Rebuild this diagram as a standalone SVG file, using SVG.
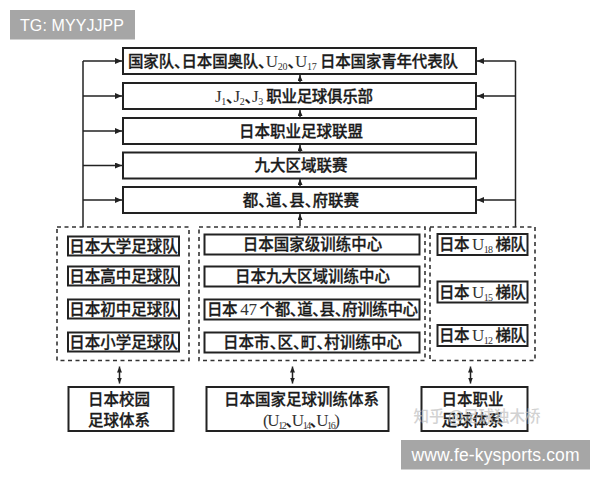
<svg xmlns="http://www.w3.org/2000/svg" width="600" height="480" viewBox="0 0 600 480">
<style>
.box { fill: #fff; stroke: #222; stroke-width: 2; }
.dash { fill: none; stroke: #333; stroke-width: 1.6; stroke-dasharray: 4 3.5; }
.ln { fill: none; stroke: #222; stroke-width: 1.5; }
.t { font-family: "Noto Sans CJK SC", "Liberation Sans", sans-serif; font-size: 15.5px; fill: #1a1a1a; stroke: #1a1a1a; stroke-width: 0.3; text-anchor: middle; font-weight: 500; font-feature-settings: "halt"; }
.r { font-family: "Liberation Serif", "Noto Sans CJK SC", serif; font-size: 17px; fill: #333; stroke: none; }
.sub { font-family: "Liberation Serif", "Noto Sans CJK SC", serif; font-size: 10px; fill: #333; stroke: none; }
.wm { font-family: "Liberation Sans", Arial, sans-serif; fill: #fff; }
</style>
<defs>
<marker id="ah" viewBox="0 0 7 6" refX="7" refY="3" markerWidth="7" markerHeight="6" markerUnits="userSpaceOnUse" orient="auto-start-reverse">
<path d="M0,0 L7,3 L0,6 z" fill="#222"/>
</marker>
<marker id="ahs" viewBox="0 0 6 5" refX="6" refY="2.5" markerWidth="6" markerHeight="5" markerUnits="userSpaceOnUse" orient="auto-start-reverse">
<path d="M0,0 L6,2.5 L0,5 z" fill="#222"/>
</marker>
</defs>
<rect width="600" height="480" fill="#fff"/>

<g id="connectors">
<path class="ln" d="M83,61 V227"/>
<path class="ln" d="M83,61 H122" marker-end="url(#ah)"/>
<path class="ln" d="M83,96 H122" marker-end="url(#ah)"/>
<path class="ln" d="M83,131 H122" marker-end="url(#ah)"/>
<path class="ln" d="M83,165.5 H122" marker-end="url(#ah)"/>
<path class="ln" d="M83,200 H122" marker-end="url(#ah)"/>
<path class="ln" d="M515.5,61 V227"/>
<path class="ln" d="M515.5,61 H477" marker-end="url(#ah)"/>
<path class="ln" d="M515.5,96 H477" marker-end="url(#ah)"/>
<path class="ln" d="M515.5,200 H477" marker-end="url(#ah)"/>
<path class="ln" d="M300,83 V75" marker-end="url(#ahs)"/>
<path class="ln" d="M300,118 V110" marker-end="url(#ahs)"/>
<path class="ln" d="M300,152.5 V145" marker-end="url(#ahs)"/>
<path class="ln" d="M300,187 V179" marker-end="url(#ahs)"/>
<path class="ln" d="M300,226 V214" marker-end="url(#ahs)"/>
<path class="ln" d="M119.5,366.5 V383.5" marker-start="url(#ahs)" marker-end="url(#ahs)"/>
<path class="ln" d="M292.5,366.5 V383.5" marker-start="url(#ahs)" marker-end="url(#ahs)"/>
<path class="ln" d="M470.5,366.5 V383.5" marker-start="url(#ahs)" marker-end="url(#ahs)"/>
</g>

<g id="national-team">
<rect class="box" x="123" y="48" width="353" height="26"/>
<text class="t" x="293" y="66.5" textLength="330">国家队、日本国奥队、<tspan class="r">U</tspan><tspan class="sub" dy="3">20</tspan><tspan dy="-3">、</tspan><tspan class="r">U</tspan><tspan class="sub" dy="3">17</tspan><tspan dy="-3"> 日本国家青年代表队</tspan></text>
</g>
<g id="j-clubs">
<rect class="box" x="123" y="83" width="353" height="26"/>
<text class="t" x="294" y="101.5" textLength="158"><tspan class="r">J</tspan><tspan class="sub" dy="3">1</tspan><tspan dy="-3">、</tspan><tspan class="r">J</tspan><tspan class="sub" dy="3">2</tspan><tspan dy="-3">、</tspan><tspan class="r">J</tspan><tspan class="sub" dy="3">3</tspan><tspan dy="-3"> 职业足球俱乐部</tspan></text>
</g>
<g id="j-league">
<rect class="box" x="123" y="118" width="353" height="26"/>
<text class="t" x="301" y="136.5">日本职业足球联盟</text>
</g>
<g id="regional-league">
<rect class="box" x="123" y="152.5" width="353" height="26"/>
<text class="t" x="301" y="171">九大区域联赛</text>
</g>
<g id="prefecture-league">
<rect class="box" x="123" y="187" width="353" height="26"/>
<text class="t" x="301" y="205.5">都、道、县、府联赛</text>
</g>

<g id="school-group">
<rect class="dash" x="57" y="227" width="132" height="133.5"/>
<rect class="box" x="68" y="236.5" width="111" height="19"/>
<text class="t" x="123.5" y="251.5">日本大学足球队</text>
<rect class="box" x="68" y="266.5" width="111" height="19"/>
<text class="t" x="123.5" y="281.5">日本高中足球队</text>
<rect class="box" x="68" y="299.5" width="111" height="19"/>
<text class="t" x="123.5" y="314.5">日本初中足球队</text>
<rect class="box" x="68" y="332.5" width="111" height="19"/>
<text class="t" x="123.5" y="347.5">日本小学足球队</text>
</g>

<g id="training-group">
<rect class="dash" x="199" y="227" width="226" height="133.5"/>
<rect class="box" x="204.5" y="234.5" width="215" height="20"/>
<text class="t" x="312.5" y="250">日本国家级训练中心</text>
<rect class="box" x="204.5" y="266.5" width="215" height="20"/>
<text class="t" x="312.5" y="282">日本九大区域训练中心</text>
<rect class="box" x="204.5" y="299.5" width="215" height="20"/>
<text class="t" x="312.5" y="315" textLength="211">日本 <tspan class="r">47</tspan> 个都、道、县、府训练中心</text>
<rect class="box" x="204.5" y="332.5" width="215" height="20"/>
<text class="t" x="312.5" y="348" textLength="179">日本市、区、町、村训练中心</text>
</g>

<g id="pro-group">
<rect class="dash" x="430" y="227" width="105" height="133.5"/>
<rect class="box" x="437.5" y="234" width="90" height="21"/>
<text class="t" x="482.5" y="250" textLength="87">日本 <tspan class="r">U</tspan><tspan class="sub" dy="3">18</tspan><tspan dy="-3"> 梯队</tspan></text>
<rect class="box" x="437.5" y="281.5" width="90" height="21"/>
<text class="t" x="482.5" y="297.5" textLength="87">日本 <tspan class="r">U</tspan><tspan class="sub" dy="3">15</tspan><tspan dy="-3"> 梯队</tspan></text>
<rect class="box" x="437.5" y="325" width="90" height="21"/>
<text class="t" x="482.5" y="341" textLength="87">日本 <tspan class="r">U</tspan><tspan class="sub" dy="3">12</tspan><tspan dy="-3"> 梯队</tspan></text>
</g>

<g id="school-system">
<rect class="box" x="68.5" y="387" width="105" height="44"/>
<text class="t" x="119" y="405">日本校园</text>
<text class="t" x="119" y="426">足球体系</text>
</g>
<g id="national-system">
<rect class="box" x="206.5" y="387" width="182" height="44"/>
<text class="t" x="301.5" y="405">日本国家足球训练体系</text>
<text class="t" x="301.5" y="426" textLength="77"><tspan class="r">(U</tspan><tspan class="sub" dy="3">12</tspan><tspan dy="-3">、</tspan><tspan class="r">U</tspan><tspan class="sub" dy="3">14</tspan><tspan dy="-3">、</tspan><tspan class="r">U</tspan><tspan class="sub" dy="3">16</tspan><tspan class="r" dy="-3">)</tspan></text>
</g>
<g id="pro-system">
<rect class="box" x="421.5" y="387" width="106" height="44"/>
<text class="t" x="472.5" y="405">日本职业</text>
<text class="t" x="472.5" y="426">足球体系</text>
</g>

<text class="t" x="477" y="422" style="fill:#c4c4c4; stroke:none; opacity:0.75;">知乎 @足球独木桥</text>

<rect x="10" y="10" width="125" height="29.5" fill="#a6a6a6"/>
<text class="wm" x="20" y="30.5" font-size="16" textLength="104">TG: MYYJJPP</text>
<rect x="401" y="440" width="189" height="29.5" fill="#a6a6a6"/>
<text class="wm" x="411.5" y="460.5" font-size="17.5" textLength="168">www.fe-kysports.com</text>
</svg>
